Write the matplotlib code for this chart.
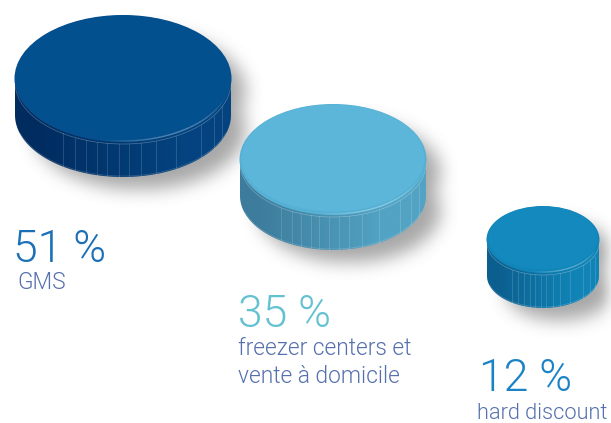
"""Share of sales by channel, drawn as three pucks (pixel coordinates)."""
import numpy as np
import matplotlib
matplotlib.use("Agg")
import matplotlib.pyplot as plt
from matplotlib.patches import Ellipse, PathPatch
from matplotlib.path import Path
from matplotlib.font_manager import FontProperties

W, H = 611, 423

shares = [51, 35, 12]
channels = ["GMS", "freezer centers et\nvente à domicile", "hard discount"]

# puck geometry
centers_x = [123, 333, 543]
centers_y = [77, 158, 238]
radii_x = [108, 93, 56]
radii_y = [62, 54, 32]
side_h = [38, 38, 38]
top_cols = ["#03508f", "#5cb6da", "#1489bd"]
rim_cols = ["#054f8e", "#55b0d4", "#1285b8"]
side_dark = ["#002c60", "#3d7c9c", "#0b5f8f"]
side_light = ["#04437f", "#52a3c4", "#1183b6"]
label_xy = [(13, 262), (238, 327), (479, 391)]
sub_xy = [(17, 289), (238, 383), (477, 419)]
sub_sizes = [16.4, 16.4, 15.7]
pct_cols = ["#1b6fb7", "#63c1d0", "#1c82c6"]
sub_col = "#5570ad"
# rib positions as a fraction of the radius
ribs = [-.56, -.44, -.34, -.24, -.15, -.04, .06, .17, .31, .49, .72, .84, .92]

pct_font = FontProperties(family="Roboto", weight=300, size=32)


def hex2rgb(c):
    return np.array(matplotlib.colors.to_rgb(c))


def blur(a, r, n=3):
    k = np.ones(2 * r + 1) / (2 * r + 1)
    for _ in range(n):
        a = np.apply_along_axis(lambda v: np.convolve(v, k, mode="same"), 0, a)
        a = np.apply_along_axis(lambda v: np.convolve(v, k, mode="same"), 1, a)
    return a


def draw_shadow(ax, cx, cy, rx, ry, h):
    yy, xx = np.mgrid[0:H, 0:W]
    dx = 16
    dy = 14
    m = (((xx - cx - dx) / (rx - 2)) ** 2 + ((yy - cy - dy - h) / (ry - 2)) ** 2 <= 1)
    m |= (((xx - cx - dx) / (rx - 2)) ** 2 + ((yy - cy - dy) / (ry - 2)) ** 2 <= 1)
    a = blur(m.astype(float), 8) * 0.55
    rgba = np.zeros((H, W, 4))
    rgba[..., :3] = 0.38
    rgba[..., 3] = a
    ax.imshow(rgba, extent=(0, W, H, 0), zorder=1, interpolation="bilinear", aspect="auto")


def draw_puck(ax, i, z):
    cx, cy, rx, ry, h = centers_x[i], centers_y[i], radii_x[i], radii_y[i], side_h[i]
    t = np.linspace(np.pi, 0, 120)
    ex, ey = cx + rx * np.cos(t), cy + ry * np.sin(t)
    verts = np.r_[np.c_[ex, ey + h], np.c_[ex[::-1], ey[::-1]], [[ex[0], ey[0] + h]]]
    codes = [Path.MOVETO] + [Path.LINETO] * (len(verts) - 2) + [Path.CLOSEPOLY]
    side = PathPatch(Path(verts, codes), fc="none", ec="none", zorder=z)
    ax.add_patch(side)

    # left dark to right lighter
    g = np.linspace(0, 1, 256)[None, :, None]
    g = np.clip(g * 1.5 - .15, 0, 1)
    img = hex2rgb(side_dark[i])[None, None, :] * (1 - g) + hex2rgb(side_light[i])[None, None, :] * g
    im = ax.imshow(img, extent=(cx - rx, cx + rx, cy + ry + h, cy - ry), zorder=z,
                   aspect="auto", interpolation="bilinear")
    im.set_clip_path(side)

    for r in ribs:
        x = cx + r * rx
        y0 = cy + ry * np.sqrt(1 - r ** 2) + 5
        ax.plot([x, x], [y0, y0 + h - 5], color="white", lw=.5, alpha=.2, zorder=z + .1)
    # ring under the lip and near the bottom edge
    ax.plot(ex, ey + 5, color="white", lw=.5, alpha=.3, zorder=z + .1)
    ax.plot(ex[12:-12], ey[12:-12] + h - 1, color="white", lw=.5, alpha=.2, zorder=z + .1)

    ax.add_patch(Ellipse((cx, cy + 1.5), 2 * rx + 1, 2 * ry + 3, fc=rim_cols[i], ec="none", zorder=z + .2))
    ax.add_patch(Ellipse((cx, cy), 2 * rx - 3, 2 * ry - 1, fc=top_cols[i], ec="none", zorder=z + .3))
    # highlight on the front lower right of the lip, fading at both ends
    deg = np.linspace(18, 100, 30)
    for a0, a1 in zip(deg[:-1], deg[1:]):
        t2 = np.radians([a0, a1])
        fade = np.sin(np.pi * (a0 - 18) / 82)
        ax.plot(cx + (rx - .5) * np.cos(t2), cy + 1 + (ry + 1) * np.sin(t2), color="white",
                lw=1, alpha=.3 * fade, zorder=z + .4, solid_capstyle="butt")


fig = plt.figure(figsize=(W / 100, H / 100), dpi=100)
ax = fig.add_axes([0, 0, 1, 1])
ax.set_xlim(0, W)
ax.set_ylim(H, 0)
ax.axis("off")

for i in range(3):
    draw_shadow(ax, centers_x[i], centers_y[i], radii_x[i], radii_y[i], side_h[i])
for i in range(3):
    draw_puck(ax, i, 3 + i)

for i, s in enumerate(shares):
    ax.text(*label_xy[i], f"{s} %", color=pct_cols[i], fontproperties=pct_font,
            ha="left", va="baseline", zorder=10)
    sub_font = FontProperties(family="Roboto", weight=300, size=sub_sizes[i])
    ax.text(*sub_xy[i], channels[i], color=sub_col, fontproperties=sub_font,
            ha="left", va="baseline", linespacing=1.3, zorder=10)

ax.set_xlim(0, W)
ax.set_ylim(H, 0)
fig.savefig("out.png", dpi=100)
